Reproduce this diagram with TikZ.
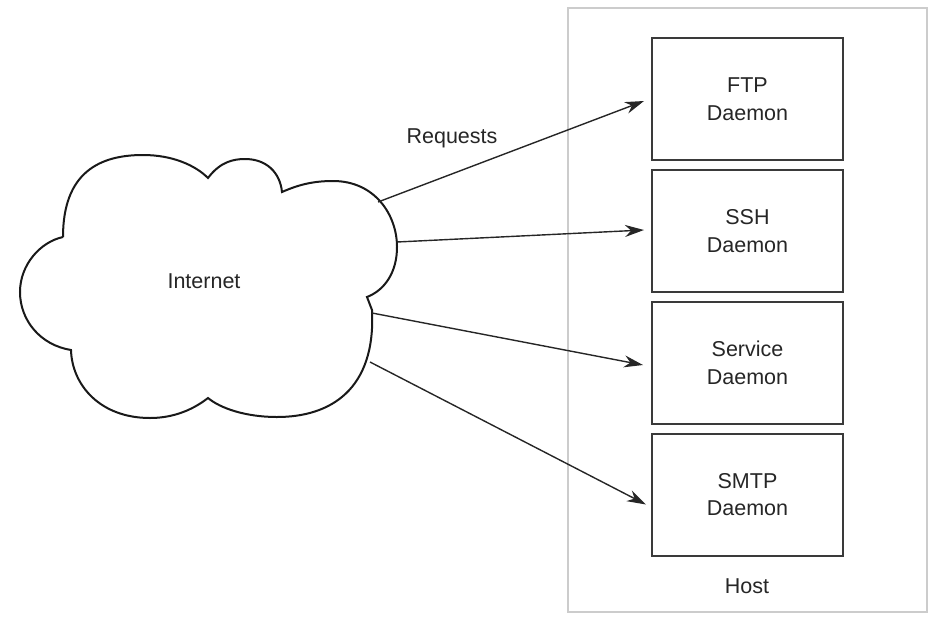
\documentclass[tikz,border=0pt]{standalone}
\usepackage{fontspec}
\setmainfont{Liberation Sans}
\usetikzlibrary{arrows.meta}
\definecolor{boxline}{HTML}{3A3A3A}
\definecolor{hostline}{HTML}{CCCCCC}
\begin{document}
\begin{tikzpicture}[x=1pt,y=-1pt,
  lbl/.style={font=\fontsize{21.5}{27.5}\selectfont, text=black!85},
  daemon/.style={draw=boxline, line width=2pt, minimum width=191pt, minimum height=122pt, align=center, inner sep=0pt, lbl},
  req/.style={draw=black!85, line width=1.4pt, -{Stealth[length=19pt,width=12pt]}},
  hostbox/.style={draw=hostline, line width=2.5pt},
  cloudline/.style={draw=black!90, line width=2pt}]
\useasboundingbox (0,0) rectangle (931,616);
% host
\node[hostbox, minimum width=359pt, minimum height=604pt, inner sep=0pt] (host) at (747.5,310) {};
\node[lbl] (hostlbl) at (747,586) {Host};
% daemons
\node[daemon] (ftp) at (747.5,99) {FTP\\Daemon};
\node[daemon] (ssh) at (747.5,231) {SSH\\Daemon};
\node[daemon] (svc) at (747.5,363) {Service\\Daemon};
\node[daemon] (smtp) at (747.5,494.5) {SMTP\\Daemon};
% cloud
\path[cloudline] (63,237) .. controls (63,172) and (100,155) .. (143,155)
  .. controls (172,155) and (195,165) .. (208,178)
  .. controls (220,162) and (233,159) .. (245,159)
  .. controls (266,159) and (280,172) .. (282,192)
  .. controls (300,184) and (315,181) .. (333,181)
  .. controls (375,181) and (397,215) .. (397,247)
  .. controls (397,272) and (385,290) .. (367,297)
  -- (372,310)
  .. controls (376,390) and (330,417) .. (277,417)
  .. controls (245,417) and (220,408) .. (208,398)
  .. controls (190,412) and (170,418) .. (150,418)
  .. controls (100,418) and (72,385) .. (71,350)
  .. controls (40,345) and (20,320) .. (20,292)
  .. controls (20,265) and (40,242) .. (63,237);
\node[lbl] (internet) at (204,281) {Internet};
\node[lbl] (reqlbl) at (452,138) {Requests};
% arrow start points on the cloud
\coordinate (c1) at (378,202);
\coordinate (c2) at (397,242);
\coordinate (c3) at (372,313);
\coordinate (c4) at (370,362);
\draw[req] (c1) -- ([shift={(-7,2)}]ftp.west);
\draw[req] (c2) -- ([shift={(-7,-1)}]ssh.west);
\draw[req] (c3) -- ([shift={(-8,2)}]svc.west);
\draw[req] (c4) -- ([shift={(-5,10)}]smtp.west);
\end{tikzpicture}
\end{document}
